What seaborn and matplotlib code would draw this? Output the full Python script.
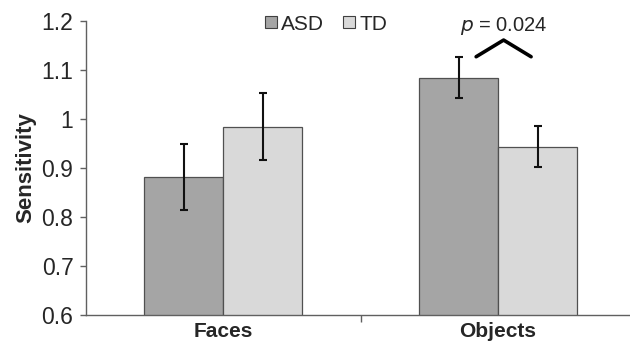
import matplotlib
matplotlib.use("Agg")
import matplotlib.pyplot as plt
import seaborn as sns
import pandas as pd
from matplotlib.lines import Line2D

categories = ["Faces", "Objects"]
groups = ["ASD", "TD"]
asd_values = [0.882, 1.084]
td_values = [0.984, 0.943]
asd_err = [0.067, 0.042]
td_err = [0.068, 0.042]
p_label = "p = 0.024"

sns.set_theme(style="white")
plt.rcParams['font.family'] = ['Liberation Sans', 'DejaVu Sans']

df = pd.DataFrame({
    "cat": categories * 2,
    "group": ["ASD"] * 2 + ["TD"] * 2,
    "val": asd_values + td_values,
    "err": asd_err + td_err,
})

colors = {"ASD": "#a5a5a5", "TD": "#d9d9d9"}

fig = plt.figure(figsize=(6.3, 3.48), dpi=100)
ax = fig.add_axes([0.1365, 0.0948, 0.8635, 0.845])

sns.barplot(data=df, x="cat", y="val", hue="group", order=categories,
            hue_order=groups, palette=colors, errorbar=None, width=0.575,
            edgecolor="#505050", linewidth=0.9, ax=ax, legend=False)

# error bars at bar centres
for bars, g in zip(ax.containers, groups):
    sub = df[df.group == g].set_index("cat").loc[categories]
    xs = [b.get_x() + b.get_width() / 2 for b in bars]
    ax.errorbar(xs, sub["val"].values, yerr=sub["err"].values, fmt="none",
                ecolor="#111111", elinewidth=1.5, capsize=2.8, capthick=1.5, zorder=5)

ax.set_ylim(0.6, 1.2)
ax.set_xlim(-0.5, 1.48)
ax.set_yticks([0.6, 0.7, 0.8, 0.9, 1.0, 1.1, 1.2])
ax.set_yticklabels(["0.6", "0.7", "0.8", "0.9", "1", "1.1", "1.2"])
ax.set_xlabel("")
ax.set_ylabel("Sensitivity", fontsize=16, fontweight="bold", labelpad=4)
ax.tick_params(axis="y", labelsize=16.5, length=4, width=1, color="#606060",
               direction="out", left=True, pad=5)
ax.tick_params(axis="x", which="major", labelsize=15, length=0, pad=5)
for lab in ax.get_xticklabels():
    lab.set_fontweight("bold")
ax.set_xticks([0.5], minor=True)
ax.tick_params(axis="x", which="minor", length=5, width=1, color="#606060",
               direction="out", bottom=True)

for s in ["top", "right"]:
    ax.spines[s].set_visible(False)
for s in ["left", "bottom"]:
    ax.spines[s].set_color("#606060")
    ax.spines[s].set_linewidth(1.0)

# significance bracket
ax.plot([0.92, 1.02, 1.12], [1.127, 1.161, 1.127], color="black", lw=2.6,
        clip_on=False, zorder=6)
ax.text(1.02, 1.19, "$p$ = 0.024", ha="center", va="center", fontsize=14.5)

handles = [Line2D([0], [0], marker="s", linestyle="none", markersize=8.5,
                  markerfacecolor=colors[g], markeredgecolor="#404040",
                  markeredgewidth=0.8) for g in groups]
ax.legend(handles, groups, loc="upper center", bbox_to_anchor=(0.437, 1.085),
          ncol=2, frameon=False, fontsize=15, handletextpad=0.0,
          columnspacing=0.7, handlelength=1.0)

fig.savefig("out.png", dpi=100)
